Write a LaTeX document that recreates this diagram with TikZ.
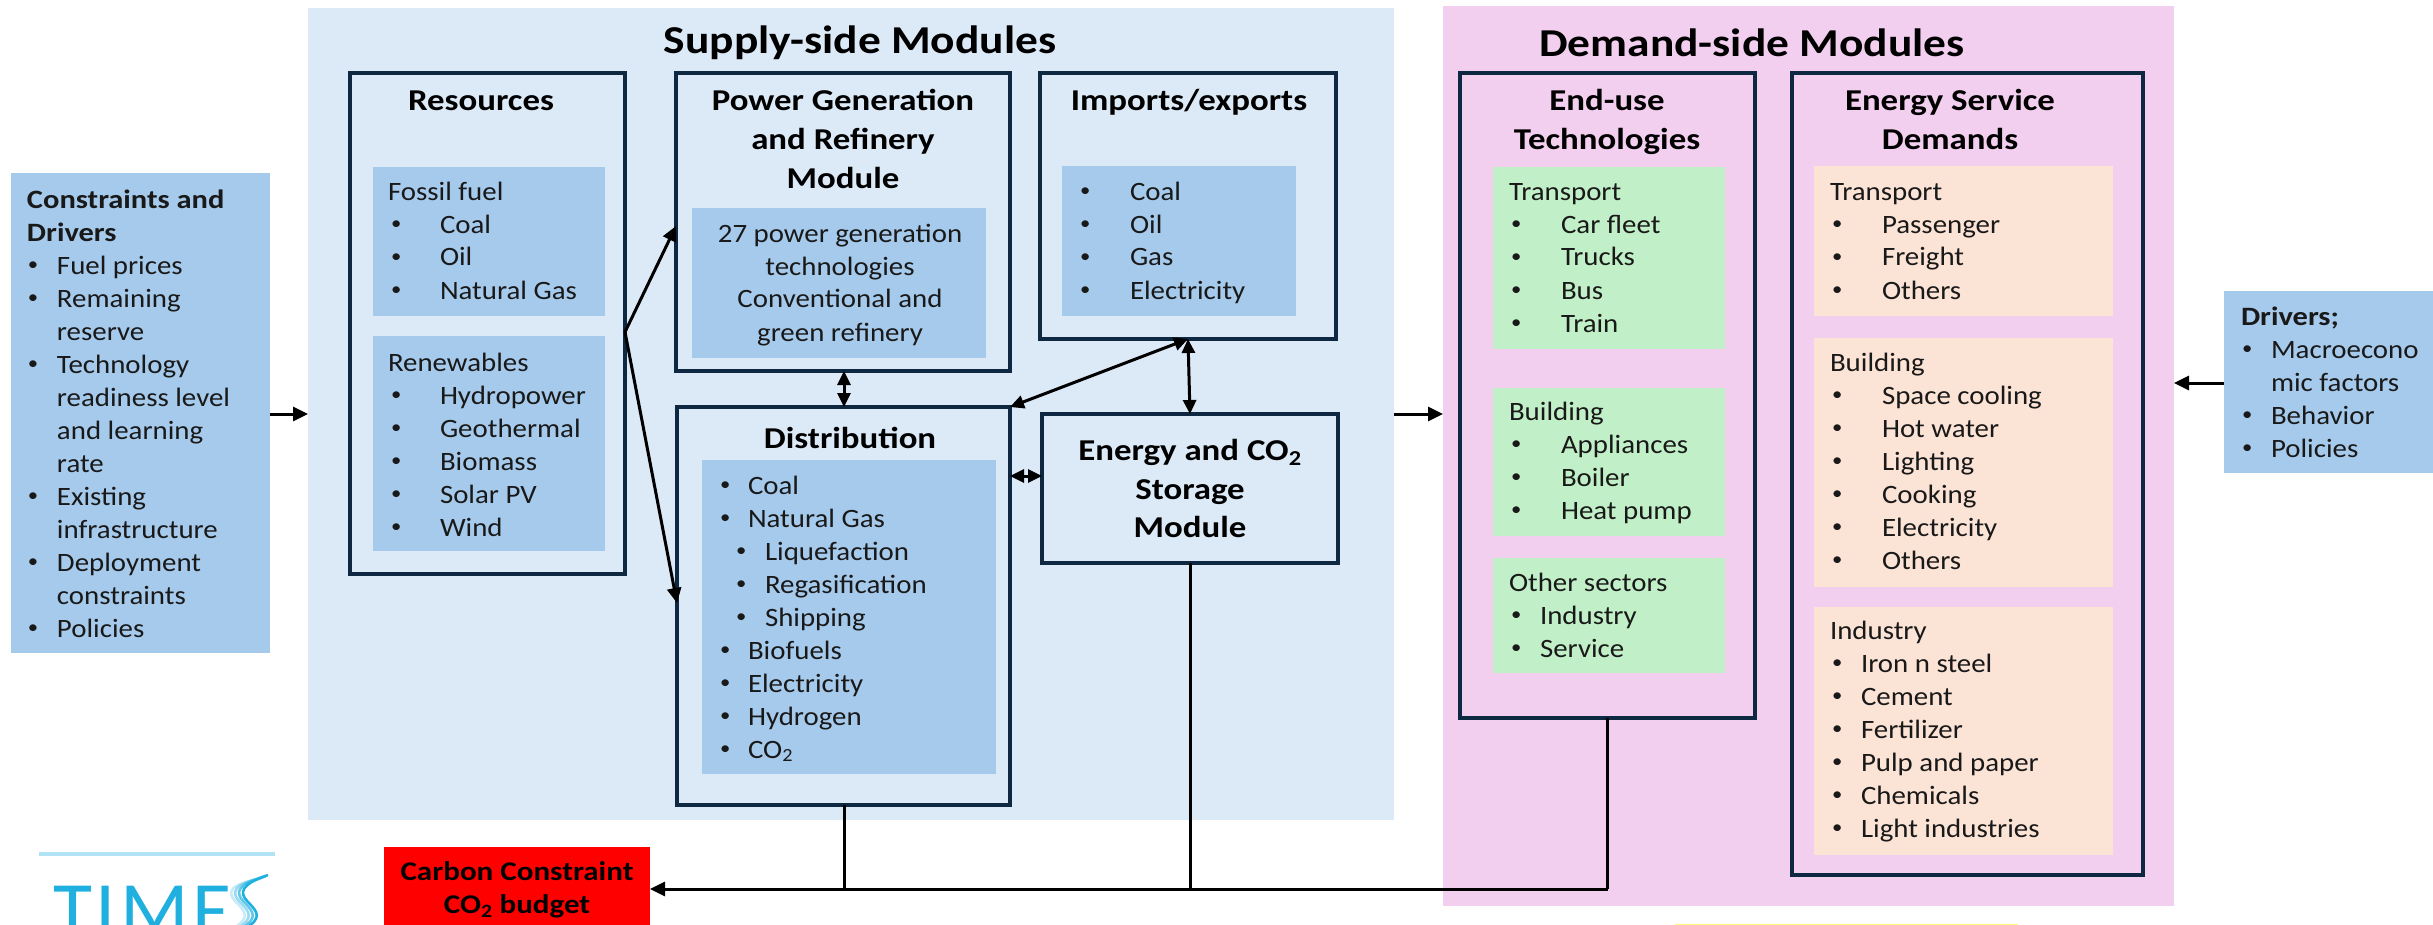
\documentclass[tikz,border=0pt]{standalone}
\usepackage{fontspec}
\setmainfont{Carlito}[FakeStretch=1.09,BoldFeatures={FakeStretch=1.15}]
\newfontfamily\logofont{Carlito}[LetterSpace=5]
\usetikzlibrary{arrows.meta,calc}
\definecolor{supplyc}{HTML}{DCE9F6}
\definecolor{bluec}{HTML}{A6CAEC}
\definecolor{pinkc}{HTML}{F2CEEF}
\definecolor{greenc}{HTML}{C1F0C8}
\definecolor{peachc}{HTML}{FBE3D6}
\definecolor{edgec}{HTML}{0E2841}
\definecolor{logoc}{HTML}{1FB0DF}
\tikzset{
  base/.style={inner sep=0pt,outer sep=0pt,rectangle},
  panelsup/.style={base,fill=supplyc},
  paneldem/.style={base,fill=pinkc},
  frame/.style={base,draw=edgec,line width=3.6pt},
  bluebox/.style={base,fill=bluec},
  greenbox/.style={base,fill=greenc},
  peachbox/.style={base,fill=peachc},
  redbox/.style={base,fill=red},
  conn/.style={line width=3pt,black},
  arr/.style={conn,-{Triangle[length=15pt,width=14pt]}},
  biarr/.style={conn,{Triangle[length=14pt,width=13pt]}-{Triangle[length=14pt,width=13pt]}},
  listtxt/.style={base,anchor=north west,align=left,font=\fontsize{26.5}{33}\selectfont,text=black!90},
  headtxt/.style={base,anchor=north,align=center,font=\bfseries\fontsize{30.3}{39}\selectfont},
  titletxt/.style={base,font=\bfseries\fontsize{39.5}{44}\selectfont},
}
\newcommand\shp[6]{\node[#6,minimum width={(#4-#2)*1pt},minimum height={(#5-#3)*1pt}] (#1) at ({(#2+#4)/2},{(#3+#5)/2}) {};}
\newcommand\Tx[4]{\node[listtxt] (#1) at (#2,{#3-11}) {\rule{0pt}{20pt}#4};}
\newcommand\Hd[4]{\node[headtxt] (#1) at (#2,{#3-12.5}) {\rule{0pt}{24pt}#4};}
\newcommand\setb[2]{\gdef\bbx{#1pt}\gdef\ttx{#2pt}}
\newcommand\smbul{\raisebox{3.2pt}{\fontsize{19}{19}\selectfont\textbullet}}
\newcommand\itm[1]{\rlap{\hspace*{\bbx}\smbul}\hspace*{\ttx}#1}
\newcommand\subitm[1]{\rlap{\hspace*{17pt}\smbul}\hspace*{46pt}#1}
\begin{document}
\begin{tikzpicture}[x=1pt,y=-1pt]
\useasboundingbox (0,0) rectangle (2433,925);
% panels
\shp{supply}{308}{8}{1394}{820}{panelsup}
\shp{demand}{1443}{6}{2174}{906}{paneldem}
\node[titletxt] (tsup) at (860,43) {Supply-side Modules};
\node[titletxt] (tdem) at (1752,43) {Demand-side Modules};
% side boxes
\shp{cons}{11}{173}{270}{653}{bluebox}
\shp{driv}{2224}{291}{2433}{473}{bluebox}
\shp{carbon}{384}{847}{650}{925}{redbox}
% frames
\shp{res}{350}{73}{625}{574}{frame}
\shp{pow}{676}{73}{1010}{371}{frame}
\shp{imp}{1040}{73}{1336}{339}{frame}
\shp{dist}{677}{407}{1010}{805}{frame}
\node[frame,minimum width=296pt,minimum height=149pt,align=center,font=\bfseries\fontsize{30.3}{38.5}\selectfont] (stor) at (1190,488.5) {Energy and CO\textsubscript{2}\\Storage\\Module};
\shp{enduse}{1460}{73}{1755}{718}{frame}
\shp{esd}{1792}{73}{2143}{875}{frame}
% inner boxes
\shp{fossil}{373}{167}{605}{316}{bluebox}
\shp{renew}{373}{336}{605}{551}{bluebox}
\shp{powin}{692}{208}{986}{358}{bluebox}
\shp{impin}{1062}{166}{1296}{316}{bluebox}
\shp{distin}{702}{460}{996}{774}{bluebox}
\shp{gtrans}{1493}{167}{1725}{349}{greenbox}
\shp{gbuild}{1493}{388}{1725}{536}{greenbox}
\shp{gother}{1493}{558}{1725}{673}{greenbox}
\shp{ptrans}{1814}{166}{2113}{316}{peachbox}
\shp{pbuild}{1814}{338}{2113}{587}{peachbox}
\shp{pind}{1814}{607}{2113}{855}{peachbox}
% headings
\Hd{hres}{481}{99}{Resources}
\Hd{hpow}{843}{99}{Power Generation\\and Refinery\\Module}
\Hd{himp}{1189}{99}{Imports/exports}
\Hd{hdist}{850}{437}{Distribution}
\Hd{hend}{1607}{99}{End-use\\Technologies}
\Hd{hesd}{1950}{99}{Energy Service\\Demands}
% lists
\setb{3}{52}
\Tx{lfos}{388}{191}{Fossil fuel\\\itm{Coal}\\\itm{Oil}\\\itm{Natural Gas}}
\Tx{lren}{388}{362}{Renewables\\\itm{Hydropower}\\\itm{Geothermal}\\\itm{Biomass}\\\itm{Solar PV}\\\itm{Wind}}
\node[listtxt,anchor=north,align=center] (lpow) at (840,222) {\rule{0pt}{20pt}27 power generation\\technologies\\Conventional and\\green refinery};
\setb{2}{52}
\Tx{limp}{1078}{191}{\itm{Coal}\\\itm{Oil}\\\itm{Gas}\\\itm{Electricity}}
\setb{1}{29}
\Tx{ldist}{719}{485}{\itm{Coal}\\\itm{Natural Gas}\\\subitm{Liquefaction}\\\subitm{Regasification}\\\subitm{Shipping}\\\itm{Biofuels}\\\itm{Electricity}\\\itm{Hydrogen}\\\itm{CO\textsubscript{2}}}
\setb{2}{52}
\Tx{lgt}{1509}{191}{Transport\\\itm{Car fleet}\\\itm{Trucks}\\\itm{Bus}\\\itm{Train}}
\Tx{lgb}{1509}{411}{Building\\\itm{Appliances}\\\itm{Boiler}\\\itm{Heat pump}}
\setb{2}{31}
\Tx{lgo}{1509}{582}{Other sectors\\\itm{Industry}\\\itm{Service}}
\setb{2}{52}
\Tx{lpt}{1830}{191}{Transport\\\itm{Passenger}\\\itm{Freight}\\\itm{Others}}
\Tx{lpb}{1830}{362}{Building\\\itm{Space cooling}\\\itm{Hot water}\\\itm{Lighting}\\\itm{Cooking}\\\itm{Electricity}\\\itm{Others}}
\setb{2}{31}
\Tx{lpi}{1830}{630}{Industry\\\itm{Iron n steel}\\\itm{Cement}\\\itm{Fertilizer}\\\itm{Pulp and paper}\\\itm{Chemicals}\\\itm{Light industries}}
\setb{1}{30}
\Tx{lcons}{27}{199}{\textbf{Constraints and}\\\textbf{Drivers}\\\itm{Fuel prices}\\\itm{Remaining}\\\hspace*{30pt}reserve\\\itm{Technology}\\\hspace*{30pt}readiness level\\\hspace*{30pt}and learning\\\hspace*{30pt}rate\\\itm{Existing}\\\hspace*{30pt}infrastructure\\\itm{Deployment}\\\hspace*{30pt}constraints\\\itm{Policies}}
\setb{1}{30}
\Tx{ldriv}{2241}{316}{\textbf{Drivers;}\\\itm{Macroecono}\\\hspace*{30pt}mic factors\\\itm{Behavior}\\\itm{Policies}}
\node[base,align=center,font=\bfseries\fontsize{27}{33}\selectfont] (lcarb) at (517,890) {Carbon Constraint\\CO\textsubscript{2} budget};
% connectors
\coordinate (fork) at (res.east |- 0,332);
\coordinate (busE) at (enduse.south |- 0,889);
\coordinate (impB) at (imp.south -| 1188,0);
\draw[arr] (cons.east |- 0,414) -- (supply.west |- 0,414);
\draw[arr] (supply.east |- 0,414) -- (demand.west |- 0,414);
\draw[arr] (driv.west |- 0,383) -- (demand.east |- 0,383);
\draw[arr] (fork) -- (pow.west |- 0,226);
\draw[arr] (fork) -- (dist.west |- 0,603);
\draw[biarr] (pow.south -| 844,0) -- (dist.north -| 844,0);
\draw[biarr] (dist.north east) -- (impB);
\draw[biarr] (impB) -- (stor.north);
\draw[biarr] (dist.east |- 0,476) -- (stor.west |- 0,476);
\draw[conn] (enduse.south) -- (busE);
\draw[arr] (busE) -- (carbon.east |- 0,889);
\draw[conn] (stor.south) -- (stor.south |- 0,889);
\draw[conn] (dist.south -| 844,0) -- (844,889);
% logo
\fill[logoc!35] (39,852) rectangle (275,856);
\node[base,anchor=base west,text=logoc,font=\logofont\fontsize{80}{80}\selectfont] (logo) at (53,937) {TIME};
\foreach \dx/\op in {0/1,4/0.7,8/0.45,12/0.25}
  \draw[logoc,opacity=\op,line width=2.6pt] (268-\dx*0.6,875+\dx*0.3) .. controls (242-\dx,884) and (238-\dx,892) .. (248-\dx,902) .. controls (258-\dx,912) and (262-\dx,918) .. (246-\dx,928);
% stray yellow rule at bottom edge
\fill[yellow!55!white] (1675,923.6) rectangle (2018,925);
\end{tikzpicture}
\end{document}
